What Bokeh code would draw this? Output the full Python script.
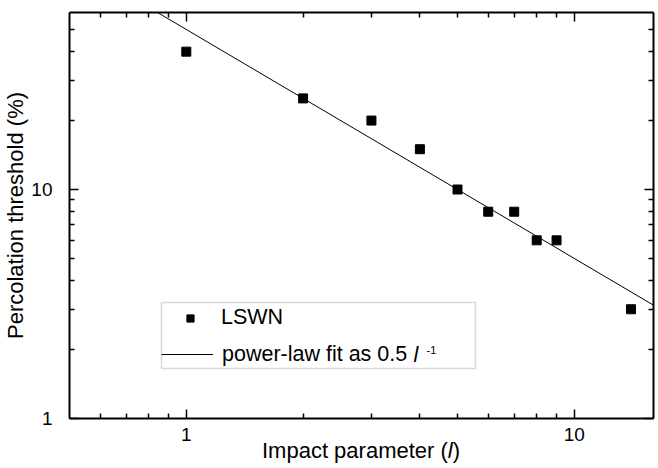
from bokeh.plotting import figure
from bokeh.layouts import column
from bokeh.models import (LogAxis, FixedTicker, BasicTickFormatter, CustomJSTickFormatter,
                          Legend, LegendItem, Label, BoxAnnotation, Range1d, Div)
from bokeh.embed import file_html
from bokeh.resources import INLINE

# ---- data ----
impact = [1, 2, 3, 4, 5, 6, 7, 8, 9, 14]
threshold = [40, 25, 20, 15, 10, 8, 8, 6, 6, 3]
fit_x = [0.5, 16]
fit_y = [100.0, 3.125]          # power-law fit 0.5 * l^-1 (in %)

x_major = [1, 10]
x_minor = [0.6, 0.7, 0.8, 0.9, 2, 3, 4, 5, 6, 7, 8, 9]
y_major = [1, 10]
y_minor = [2, 3, 4, 5, 6, 7, 8, 9, 20, 30, 40, 50]

FONT = "Liberation Sans"

p = figure(width=658, height=450, x_axis_type="log", y_axis_type="log",
           x_range=Range1d(0.5, 16), y_range=Range1d(1, 59.3),
           output_backend="svg", toolbar_location=None,
           min_border_left=69, min_border_right=5, min_border_top=12,
           min_border_bottom=32)
p.grid.visible = False
p.outline_line_color = None
p.background_fill_color = "white"
p.border_fill_color = "white"

fit_r = p.line(fit_x, fit_y, line_color="black", line_width=1)
pts_r = p.scatter(impact, threshold, marker="square", size=9,
                  fill_color="black", line_color="black", line_width=1)


def style_axis(ax, major, minor, show):
    ax.ticker = FixedTicker(ticks=major, minor_ticks=minor)
    ax.axis_line_color = "black"
    ax.axis_line_width = 2
    ax.major_tick_in = 9
    ax.major_tick_out = 0
    ax.minor_tick_in = 5
    ax.minor_tick_out = 0
    ax.major_tick_line_width = 1.5
    ax.minor_tick_line_width = 1.5
    ax.major_tick_line_color = "black"
    ax.minor_tick_line_color = "black"
    if show:
        ax.formatter = BasicTickFormatter()
        ax.major_label_text_font = FONT
        ax.major_label_text_font_size = "19px"
        ax.major_label_text_color = "black"
    else:
        ax.formatter = CustomJSTickFormatter(code="return ''")
        ax.major_label_text_font_size = "1px"
        ax.major_label_standoff = 0


xb = p.xaxis[0]
yl = p.yaxis[0]
style_axis(xb, x_major, x_minor, True)
style_axis(yl, y_major, y_minor, True)
xb.major_label_standoff = 9
yl.major_label_standoff = 17
yl.axis_label = "Percolation threshold (%)"
yl.axis_label_text_font = FONT
yl.axis_label_text_font_size = "22px"
yl.axis_label_text_font_style = "normal"
yl.axis_label_text_color = "black"
yl.axis_label_standoff = 0

xt = LogAxis()
style_axis(xt, x_major, x_minor, False)
p.add_layout(xt, "above")
yr = LogAxis()
style_axis(yr, y_major, y_minor, False)
p.add_layout(yr, "right")

# legend frame
p.add_layout(BoxAnnotation(left=92, right=406, bottom=50, top=116,
                           left_units="screen", right_units="screen",
                           top_units="screen", bottom_units="screen",
                           fill_color="white", fill_alpha=1.0,
                           line_color="#808080", line_width=1.5,
                           level="annotation"))

leg_common = dict(padding=0, margin=0, spacing=0, border_line_color=None,
                  background_fill_alpha=0, label_text_font=FONT,
                  label_text_font_size="21.5px", label_text_color="black")
leg1 = Legend(items=[LegendItem(label="LSWN", renderers=[pts_r])],
              location=(112, 88), glyph_width=18, glyph_height=18,
              label_height=18, label_standoff=22, **leg_common)
leg2 = Legend(items=[LegendItem(label="power-law fit as 0.5", renderers=[fit_r])],
              location=(92, 51), glyph_width=52, glyph_height=18,
              label_height=26, label_standoff=9, **leg_common)
p.add_layout(leg1, "center")
p.add_layout(leg2, "center")

leg_kw = dict(x_units="screen", y_units="screen", text_font=FONT,
              text_color="black", text_baseline="middle", text_align="left")
p.add_layout(Label(x=344, y=64, text="l", text_font_style="italic",
                   text_font_size="21.5px", **leg_kw))
p.add_layout(Label(x=357, y=68.5, text="-1", text_font_size="11px", **leg_kw))

# x-axis title (with italic l) placed just under the plot
xtitle = Div(text="Impact parameter (<i>l</i>)", width=584, height=26,
             margin=(-12, 0, 0, 69),
             styles={"text-align": "center", "font-family": FONT,
                     "font-size": "22px", "color": "black",
                     "line-height": "26px"})

layout = column(p, xtitle, spacing=0)
open("out.html", "w").write(file_html(layout, INLINE))
